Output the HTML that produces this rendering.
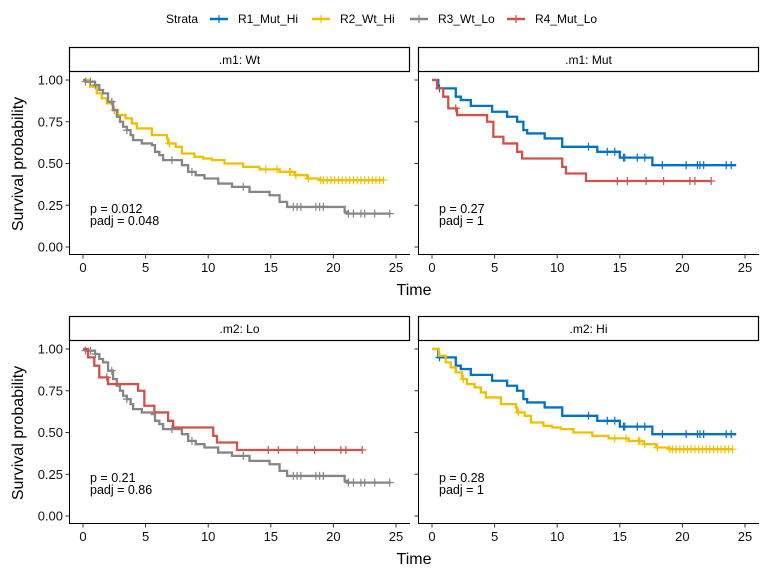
<!DOCTYPE html>
<html><head><meta charset="utf-8"><style>
body{margin:0;background:#fff}
svg{display:block;font-family:"Liberation Sans",sans-serif}
</style></head><body>
<svg id="c" width="768" height="576" xmlns="http://www.w3.org/2000/svg"></svg>
<script>
const R1_t=[0,0.5,1.9,2.3,3.1,4.8,6,6.8,7.3,7.6,9,10.4,13.2,15,17.6];
const R1_s=[1,0.95,0.90,0.88,0.845,0.81,0.78,0.75,0.70,0.68,0.65,0.60,0.57,0.535,0.49];
const R1_end=24.3;
const R1_c=[0.6,12.5,14,14.6,15.3,15.4,16.4,17,18.4,20.3,21.2,21.4,21.7,23.5,23.9];
const R2_t=[0,0.56,1.1,1.5,1.9,2.4,2.8,3.4,3.9,4.3,5.5,6.7,6.8,7.4,7.9,8.9,9.6,10.3,11.3,12.8,14.1,15.7,16.9,17.9,18.9];
const R2_s=[1,0.96,0.92,0.89,0.86,0.82,0.79,0.77,0.74,0.71,0.67,0.65,0.62,0.60,0.56,0.54,0.53,0.52,0.50,0.48,0.465,0.45,0.43,0.41,0.40];
const R2_end=24;
const R2_c=[2.5,6.9,14.6,15.5,16.5,16.6,17,18,19,19.2,19.5,19.8,20.1,20.4,20.7,21,21.3,21.6,21.9,22.2,22.5,22.8,23.1,23.4,23.7,24];
const R3_t=[0,0.2,0.96,1.3,1.6,2,2.4,2.7,2.95,3.2,3.5,3.8,4,4.7,5.5,5.75,6.1,6.4,7.9,8.4,9,9.7,10.8,11.9,13.3,14.9,15.7,16.3,20.9,21.1];
const R3_s=[1,0.99,0.97,0.94,0.92,0.87,0.82,0.78,0.75,0.72,0.70,0.67,0.64,0.62,0.61,0.57,0.55,0.52,0.49,0.45,0.43,0.41,0.38,0.36,0.33,0.31,0.27,0.24,0.21,0.20];
const R3_end=24.5;
const R3_c=[0.2,0.6,1.0,2.3,3.5,7.1,8.7,12.8,16.8,17.1,17.4,18.6,18.9,19.2,21.2,21.6,22.2,22.5,23.3,24.5];
const R4_t=[0,0.4,0.9,1.3,2,4.4,4.9,5.7,6.8,7.2,10.4,10.7,12.3];
const R4_s=[1,0.95,0.90,0.83,0.79,0.75,0.66,0.62,0.57,0.53,0.48,0.44,0.395];
const R4_end=22.3;
const R4_c=[1.9,14.8,15.6,17.1,18.5,20.6,21,22.3];
const strata=["R1_Mut_Hi","R2_Wt_Hi","R3_Wt_Lo","R4_Mut_Lo"];
const colors=["#0073C2","#EFC000","#868686","#CD534C"];
const series=[[R1_t,R1_s,R1_end,R1_c],[R2_t,R2_s,R2_end,R2_c],[R3_t,R3_s,R3_end,R3_c],[R4_t,R4_s,R4_end,R4_c]];
const xTicks=[0,5,10,15,20,25];
const yTicks=[0,0.25,0.5,0.75,1];
const yLabels=["0.00","0.25","0.50","0.75","1.00"];
const panels=[
 {title:".m1: Wt",x0:69,x1:410,dy:0,s:[1,2],p:"p = 0.012",pa:"padj = 0.048"},
 {title:".m1: Mut",x0:418,x1:759,dy:0,s:[0,3],p:"p = 0.27",pa:"padj = 1"},
 {title:".m2: Lo",x0:69,x1:410,dy:269,s:[2,3],p:"p = 0.21",pa:"padj = 0.86"},
 {title:".m2: Hi",x0:418,x1:759,dy:269,s:[0,1],p:"p = 0.28",pa:"padj = 1"}];
const svg=document.getElementById('c');
const NS="http://www.w3.org/2000/svg";
function mk(tag,at,parent){const e=document.createElementNS(NS,tag);for(const k in at)e.setAttribute(k,at[k]);(parent||svg).appendChild(e);return e;}
function tx(str,at,parent){const e=mk('text',at,parent);e.textContent=str;return e;}
let t0=tx("Strata",{x:166,y:23,'font-size':12});


const lx=[210,312,410,507];
strata.forEach((n,i)=>{
 const g=mk('g',{});
 
 
 mk('line',{x1:lx[i],x2:lx[i]+18,y1:19,y2:19,stroke:colors[i],'stroke-width':2.5},g);
 mk('line',{x1:lx[i]+9,x2:lx[i]+9,y1:15,y2:23,stroke:colors[i],'stroke-width':1.2},g);
 tx(n,{x:lx[i]+28,y:23,'font-size':12},g);
});
panels.forEach((P,pi)=>{
 const g=mk('g',{});
 
 
 const X0=P.x0+14, X25=P.x0+327;
 const sx=t=>X0+(X25-X0)*t/25;
 const sy=v=>247+P.dy-167*v;
 const st=mk('g',{},g);
 
 
 mk('rect',{x:P.x0+0.5,y:47.5+P.dy,width:P.x1-P.x0-1,height:24,fill:'#fff',stroke:'#000','stroke-width':1.2},st);
 tx(P.title,{x:(P.x0+P.x1)/2,y:64+P.dy,'font-size':12,'text-anchor':'middle'},st);
 const ax=mk('g',{},g);
 
 
 mk('line',{x1:P.x0+0.5,x2:P.x0+0.5,y1:72+P.dy,y2:254.5+P.dy,stroke:'#000','stroke-width':1},ax);
 mk('line',{x1:P.x0,x2:P.x1,y1:254.5+P.dy,y2:254.5+P.dy,stroke:'#000','stroke-width':1},ax);
 xTicks.forEach(v=>{
  mk('line',{x1:sx(v),x2:sx(v),y1:254.5+P.dy,y2:258.5+P.dy,stroke:'#333'},ax);
  tx(String(v),{x:sx(v),y:272+P.dy,'font-size':13,'text-anchor':'middle',fill:'#111'},ax);
 });
 yTicks.forEach((v,i)=>{
  mk('line',{x1:P.x0-3.5,x2:P.x0,y1:sy(v),y2:sy(v),stroke:'#333'},ax);
  if(P.x0<100) tx(yLabels[i],{x:P.x0-6,y:sy(v)+4.5,'font-size':13,'text-anchor':'end',fill:'#111'},ax);
 });
 P.s.forEach(si=>{
  const [T,S,E,C]=series[si];
  let d="M"+sx(T[0])+","+sy(S[0]);
  for(let k=1;k<T.length;k++){d+=" H"+sx(T[k])+" V"+sy(S[k]);}
  d+=" H"+sx(E);
  const sg=mk('g',{},g);
  
  
  mk('path',{d:d,fill:'none',stroke:colors[si],'stroke-width':2.3},sg);
  C.forEach(c=>{
   let v=S[0];for(let k=0;k<T.length;k++){if(T[k]<=c)v=S[k];}
   const x=sx(c),y=sy(v);
   const m=mk('path',{d:`M${x-4},${y}H${x+4}M${x},${y-4}V${y+4}`,stroke:colors[si],'stroke-width':1.2},sg);
   
   
  });
 });
 const pt=tx(P.p,{x:P.x0+21,y:213+P.dy,'font-size':12.5},g);
 
 
 const pa=tx(P.pa,{x:P.x0+21,y:225+P.dy,'font-size':12.5},g);
 
 
});
[0,269].forEach((dy,i)=>{
 const t=tx("Time",{x:414,y:295+dy,'font-size':16,'text-anchor':'middle'});
 
 
 const y=tx("Survival probability",{x:0,y:0,'font-size':16,'text-anchor':'middle',transform:`translate(23,${164+dy}) rotate(-90)`});
 
 
});
</script>
</body></html>
